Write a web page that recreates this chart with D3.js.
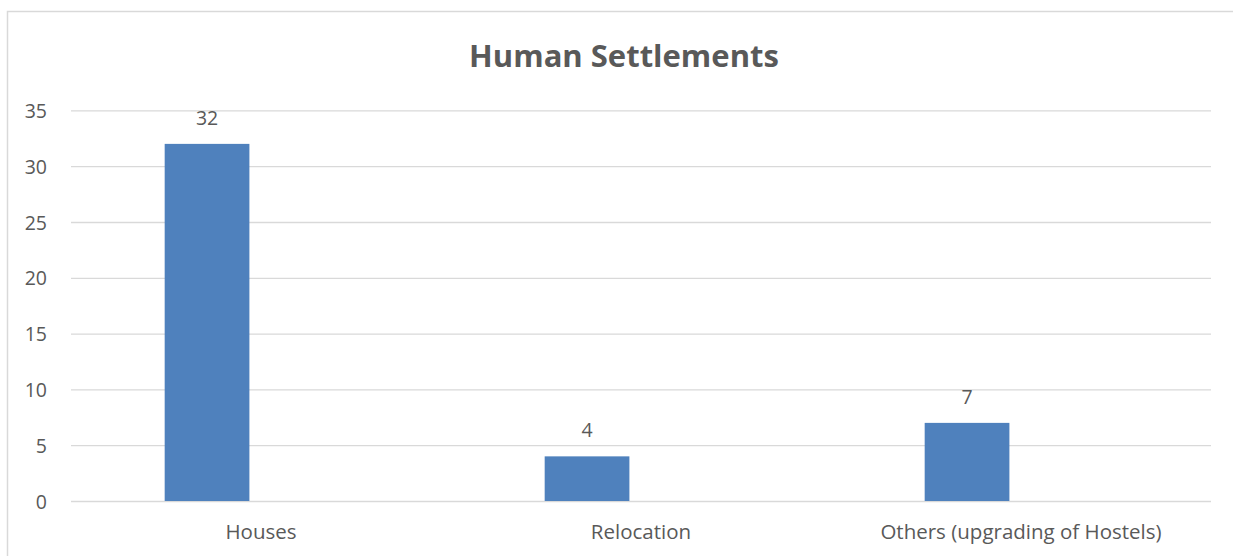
<!DOCTYPE html>
<html>
<head>
<meta charset="utf-8">
<script src="https://cdn.jsdelivr.net/npm/d3@7"></script>
<style>
  html, body { margin: 0; padding: 0; background: #fff; }
  svg { display: block; }
  text { font-family: "Open Sans", "Liberation Sans", sans-serif; fill: #595959; }
</style>
</head>
<body>
<svg id="chart" width="1233" height="556"></svg>
<script>
const chartTitle = "Human Settlements";
const categories = ["Houses", "Relocation", "Others (upgrading of Hostels)"];
const values = [32, 4, 7];
const yTicks = [0, 5, 10, 15, 20, 25, 30, 35];

const W = 1233, H = 556;
const plot = { left: 71, right: 1211, top: 110.4, bottom: 501 };
const FS = 19.5;

const svg = d3.select("#chart");

// chart frame
svg.append("rect")
  .attr("x", 7.5).attr("y", 11.5)
  .attr("width", W + 20).attr("height", H + 20)
  .attr("fill", "none").attr("stroke", "#d9d9d9").attr("stroke-width", 1.5);

const x = d3.scaleBand().domain(categories).range([plot.left, plot.right]);
// two slots per category; the second slot is left empty
const slot = d3.scaleBand().domain(["a", "b"]).range([0, x.bandwidth()]).paddingInner(0.215).paddingOuter(0.868);
const y = d3.scaleLinear().domain([0, 35]).range([plot.bottom, plot.top]);

// gridlines + y tick labels
const yAxis = d3.axisLeft(y).tickValues(yTicks).tickSize(-(plot.right - plot.left)).tickPadding(24);
const gy = svg.append("g").attr("transform", `translate(${plot.left},0)`).call(yAxis);
gy.select(".domain").remove();
gy.selectAll(".tick line").attr("stroke", "#d9d9d9").attr("stroke-width", 1.3);
gy.selectAll(".tick text").attr("font-size", FS).attr("fill", "#595959")
  .attr("font-family", "'Open Sans', sans-serif").attr("dy", "0.36em");

// x axis labels
const xAxis = d3.axisBottom(x).tickSize(0);
const gx = svg.append("g").attr("transform", `translate(0,${plot.bottom})`).call(xAxis);
gx.select(".domain").remove();
gx.selectAll(".tick text").attr("font-size", 20.5).attr("fill", "#595959")
  .attr("font-family", "'Open Sans', sans-serif")
  .attr("y", 38).attr("dy", 0);

// bars
const data = categories.map((c, i) => ({ c, v: values[i] }));
svg.append("g").selectAll("rect").data(data).join("rect")
  .attr("x", d => x(d.c) + slot("a"))
  .attr("width", slot.bandwidth())
  .attr("y", d => y(d.v))
  .attr("height", d => y(0) - y(d.v))
  .attr("fill", "#4f81bd");

// value labels
svg.append("g").selectAll("text").data(data).join("text")
  .attr("x", d => x(d.c) + slot("a") + slot.bandwidth() / 2)
  .attr("y", d => y(d.v) - 19)
  .attr("text-anchor", "middle")
  .attr("font-size", FS)
  .text(d => d.v);

// title
svg.append("text")
  .attr("x", 624).attr("y", 67)
  .attr("text-anchor", "middle")
  .attr("font-size", 31).attr("font-weight", "bold")
  .text(chartTitle);
</script>
</body>
</html>
